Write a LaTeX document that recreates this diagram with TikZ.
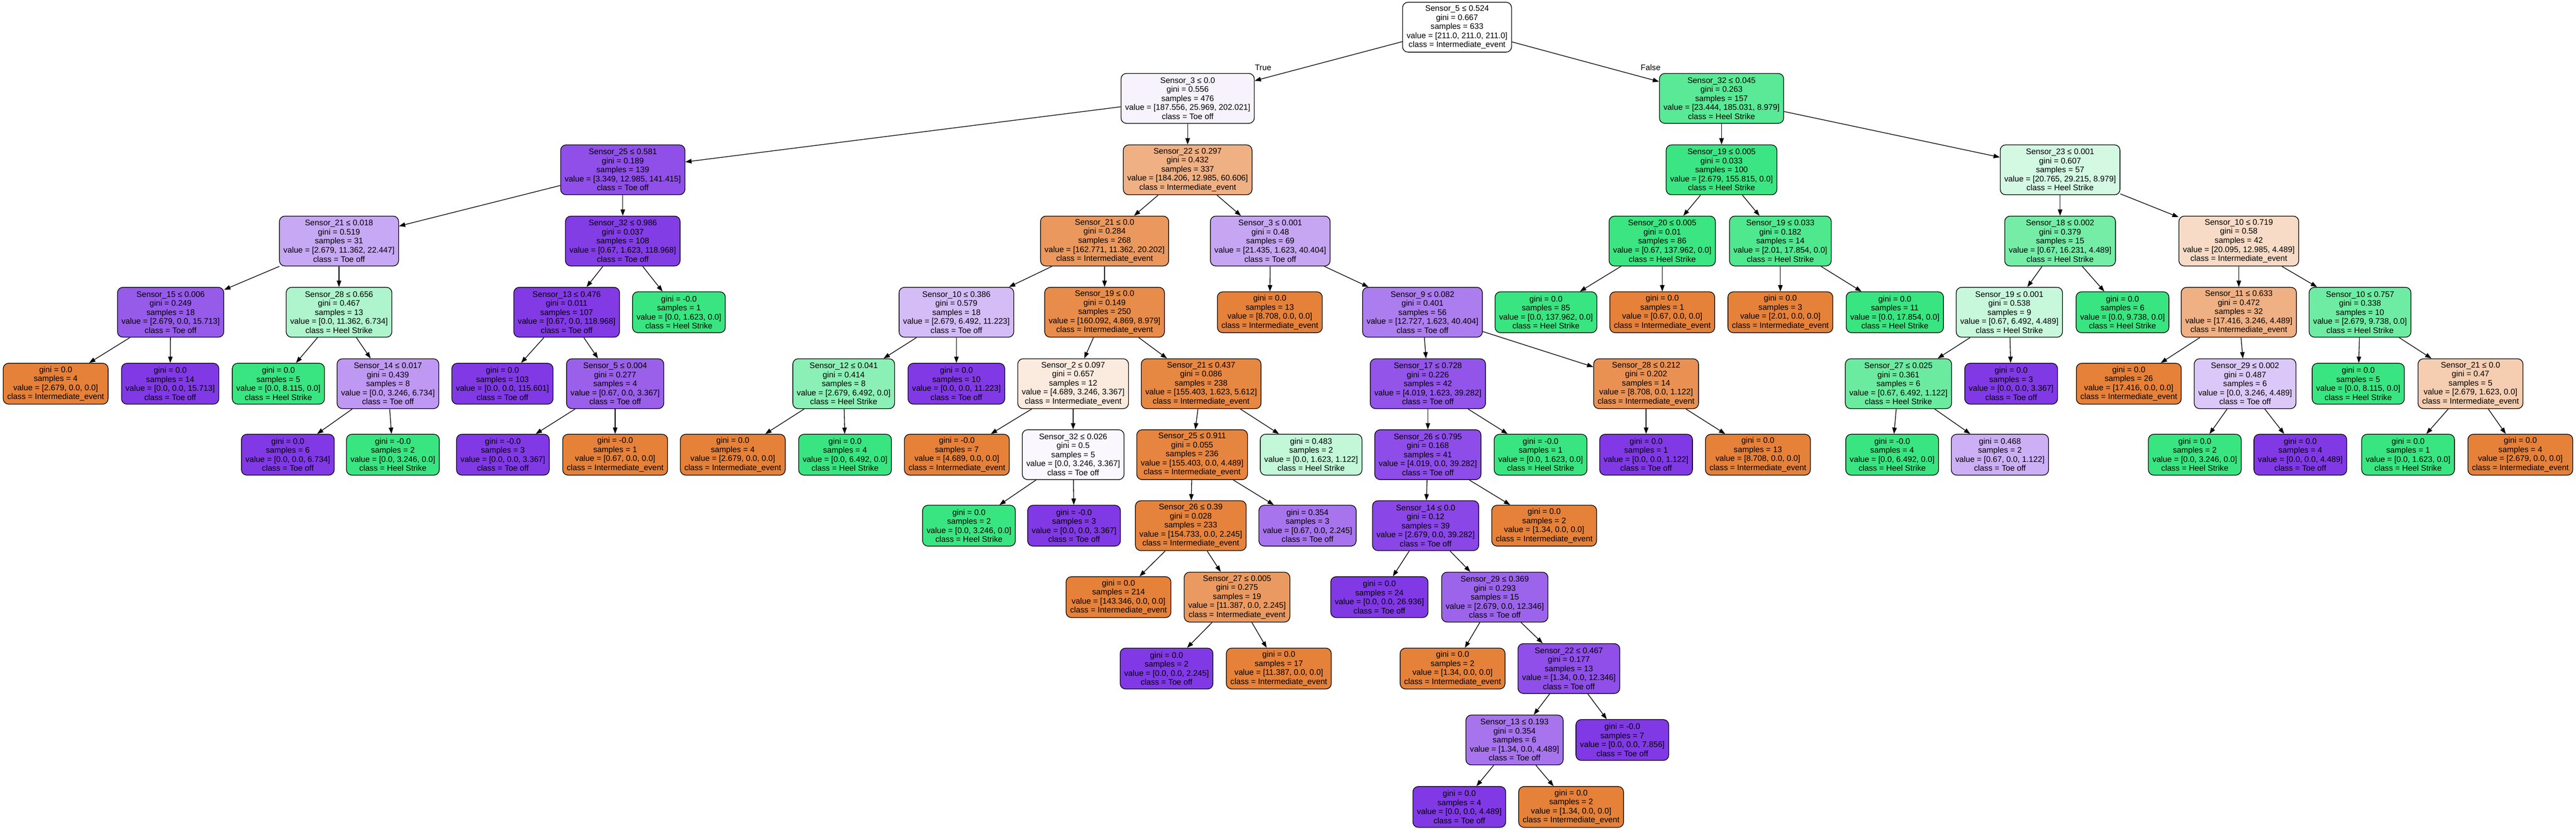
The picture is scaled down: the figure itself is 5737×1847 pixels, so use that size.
\documentclass[tikz,border=0pt]{standalone}
\usepackage{fontspec}
\setmainfont{Liberation Sans}
\usetikzlibrary{arrows.meta}
\definecolor{cI}{HTML}{E58139}
\definecolor{cH}{HTML}{39E581}
\definecolor{cT}{HTML}{8139E5}
\newcommand\treefont{\fontsize{18}{20.1}\selectfont}
\newcommand\clsI{Intermediate\_event}
\newcommand\clsH{Heel Strike}
\newcommand\clsT{Toe off}
\tikzset{
  treebox/.style={draw=black, line width=1.5pt, rounded corners=12pt, align=center,
    inner xsep=9pt, inner ysep=3pt, font=\treefont},
  splitbox/.style={treebox, minimum height=111pt},
  leafbox/.style={treebox, minimum height=91pt},
  edge/.style={line width=1.5pt, -{Triangle[length=14pt,width=10pt]}},
  elabel/.style={font=\treefont, inner sep=0pt}
}
\newcommand\splitnode[8]{\node[splitbox,fill=#2] (#1) at (#3) {#4\\gini = #5\\samples = #6\\value = [#7]\\class = #8};}
\newcommand\leafnode[7]{\node[leafbox,fill=#2] (#1) at (#3) {gini = #4\\samples = #5\\value = [#6]\\class = #7};}
\begin{document}
\begin{tikzpicture}[x=1pt,y=-1pt]
\fill[white] (0,0) rectangle (5737,1847);
\useasboundingbox (0,0) rectangle (5737,1847);
% level 0
\splitnode{n0}{white}{3245,60.5}{Sensor\_5 ≤ 0.524}{0.667}{633}{211.0, 211.0, 211.0}{\clsI}
% level 1
\splitnode{n1}{cT!6.3}{2645,219}{Sensor\_3 ≤ 0.0}{0.556}{476}{187.556, 25.969, 202.021}{\clsT}
\splitnode{n2}{cH!83.3}{3834,219}{Sensor\_32 ≤ 0.045}{0.263}{157}{23.444, 185.031, 8.979}{\clsH}
% level 2
\splitnode{n3}{cT!88.7}{1387,378}{Sensor\_25 ≤ 0.581}{0.189}{139}{3.349, 12.985, 141.415}{\clsT}
\splitnode{n4}{cI!62.7}{2645,378}{Sensor\_22 ≤ 0.297}{0.432}{337}{184.206, 12.985, 60.606}{\clsI}
\splitnode{n5}{cH!98.3}{3834,378}{Sensor\_19 ≤ 0.005}{0.033}{100}{2.679, 155.815, 0.0}{\clsH}
\splitnode{n6}{cH!22.1}{4588,378}{Sensor\_23 ≤ 0.001}{0.607}{57}{20.765, 29.215, 8.979}{\clsH}
% level 3
\splitnode{n7}{cT!44.1}{755,536.5}{Sensor\_21 ≤ 0.018}{0.519}{31}{2.679, 11.362, 22.447}{\clsT}
\splitnode{n8}{cT!98.1}{1387,536.5}{Sensor\_32 ≤ 0.986}{0.037}{108}{0.67, 1.623, 118.968}{\clsT}
\splitnode{n9}{cI!81.9}{2460,536.5}{Sensor\_21 ≤ 0.0}{0.284}{268}{162.771, 11.362, 20.202}{\clsI}
\splitnode{n10}{cT!45.1}{2829,536.5}{Sensor\_3 ≤ 0.001}{0.48}{69}{21.435, 1.623, 40.404}{\clsT}
\splitnode{n11}{cH!99.5}{3702,536.5}{Sensor\_20 ≤ 0.005}{0.01}{86}{0.67, 137.962, 0.0}{\clsH}
\splitnode{n12}{cH!88.7}{3965,536.5}{Sensor\_19 ≤ 0.033}{0.182}{14}{2.01, 17.854, 0.0}{\clsH}
\splitnode{n13}{cH!69.5}{4588,536.5}{Sensor\_18 ≤ 0.002}{0.379}{15}{0.67, 16.231, 4.489}{\clsH}
\splitnode{n14}{cI!28.9}{4986,536.5}{Sensor\_10 ≤ 0.719}{0.58}{42}{20.095, 12.985, 4.489}{\clsI}
% level 4
\splitnode{n15}{cT!83}{380,695}{Sensor\_15 ≤ 0.006}{0.249}{18}{2.679, 0.0, 15.713}{\clsT}
\splitnode{n16}{cH!40.7}{755,695}{Sensor\_28 ≤ 0.656}{0.467}{13}{0.0, 11.362, 6.734}{\clsH}
\splitnode{n17}{cT!99.4}{1262,695}{Sensor\_13 ≤ 0.476}{0.011}{107}{0.67, 0.0, 118.968}{\clsT}
\leafnode{n18}{cH}{1512,695}{-0.0}{1}{0.0, 1.623, 0.0}{\clsH}
\splitnode{n19}{cT!34}{2130,695}{Sensor\_10 ≤ 0.386}{0.579}{18}{2.679, 6.492, 11.223}{\clsT}
\splitnode{n20}{cI!91.6}{2460,695}{Sensor\_19 ≤ 0.0}{0.149}{250}{160.092, 4.869, 8.979}{\clsI}
\leafnode{n21}{cI}{2828,695}{0.0}{13}{8.708, 0.0, 0.0}{\clsI}
\splitnode{n22}{cT!65.9}{3168,695}{Sensor\_9 ≤ 0.082}{0.401}{56}{12.727, 1.623, 40.404}{\clsT}
\leafnode{n23}{cH}{3443,695}{0.0}{85}{0.0, 137.962, 0.0}{\clsH}
\leafnode{n24}{cI}{3702,695}{0.0}{1}{0.67, 0.0, 0.0}{\clsI}
\leafnode{n25}{cI}{3965,695}{0.0}{3}{2.01, 0.0, 0.0}{\clsI}
\leafnode{n26}{cH}{4220,695}{0.0}{11}{0.0, 17.854, 0.0}{\clsH}
\splitnode{n27}{cH!28}{4475,695}{Sensor\_19 ≤ 0.001}{0.538}{9}{0.67, 6.492, 4.489}{\clsH}
\leafnode{n28}{cH}{4727,695}{0.0}{6}{0.0, 9.738, 0.0}{\clsH}
\splitnode{n29}{cI!62.6}{4986,695}{Sensor\_11 ≤ 0.633}{0.472}{32}{17.416, 3.246, 4.489}{\clsI}
\splitnode{n30}{cH!72.5}{5256,695}{Sensor\_10 ≤ 0.757}{0.338}{10}{2.679, 9.738, 0.0}{\clsH}
% level 5
\leafnode{n31}{cI}{124,854}{0.0}{4}{2.679, 0.0, 0.0}{\clsI}
\leafnode{n32}{cT}{379,854}{0.0}{14}{0.0, 0.0, 15.713}{\clsT}
\leafnode{n33}{cH}{620,854}{0.0}{5}{0.0, 8.115, 0.0}{\clsH}
\splitnode{n34}{cT!51.8}{864,854}{Sensor\_14 ≤ 0.017}{0.439}{8}{0.0, 3.246, 6.734}{\clsT}
\leafnode{n35}{cT}{1119,854}{0.0}{103}{0.0, 0.0, 115.601}{\clsT}
\splitnode{n36}{cT!80.1}{1370,854}{Sensor\_5 ≤ 0.004}{0.277}{4}{0.67, 0.0, 3.367}{\clsT}
\splitnode{n37}{cH!58.7}{1879,854}{Sensor\_12 ≤ 0.041}{0.414}{8}{2.679, 6.492, 0.0}{\clsH}
\leafnode{n38}{cT}{2130,854}{0.0}{10}{0.0, 0.0, 11.223}{\clsT}
\splitnode{n39}{cI!16.7}{2390,854}{Sensor\_2 ≤ 0.097}{0.657}{12}{4.689, 3.246, 3.367}{\clsI}
\splitnode{n40}{cI!95.4}{2675,854}{Sensor\_21 ≤ 0.437}{0.086}{238}{155.403, 1.623, 5.612}{\clsI}
\splitnode{n41}{cT!86.2}{3180,854}{Sensor\_17 ≤ 0.728}{0.226}{42}{4.019, 1.623, 39.282}{\clsT}
\splitnode{n42}{cI!87.1}{3666,854}{Sensor\_28 ≤ 0.212}{0.202}{14}{8.708, 0.0, 1.122}{\clsI}
\splitnode{n43}{cH!75}{4228,854}{Sensor\_27 ≤ 0.025}{0.361}{6}{0.67, 6.492, 1.122}{\clsH}
\leafnode{n44}{cT}{4479,854}{0.0}{3}{0.0, 0.0, 3.367}{\clsT}
\leafnode{n45}{cI}{4741,854}{0.0}{26}{17.416, 0.0, 0.0}{\clsI}
\splitnode{n46}{cT!27.7}{5000,854}{Sensor\_29 ≤ 0.002}{0.487}{6}{0.0, 3.246, 4.489}{\clsT}
\leafnode{n47}{cH}{5252,854}{0.0}{5}{0.0, 8.115, 0.0}{\clsH}
\splitnode{n48}{cI!39.4}{5502,854}{Sensor\_21 ≤ 0.0}{0.47}{5}{2.679, 1.623, 0.0}{\clsI}
% level 6
\leafnode{n49}{cT}{641,1012}{0.0}{6}{0.0, 0.0, 6.734}{\clsT}
\leafnode{n50}{cH}{875,1012}{-0.0}{2}{0.0, 3.246, 0.0}{\clsH}
\leafnode{n51}{cT}{1120,1012}{-0.0}{3}{0.0, 0.0, 3.367}{\clsT}
\leafnode{n52}{cI}{1370,1012}{-0.0}{1}{0.67, 0.0, 0.0}{\clsI}
\leafnode{n53}{cI}{1632,1012}{0.0}{4}{2.679, 0.0, 0.0}{\clsI}
\leafnode{n54}{cH}{1882,1012}{0.0}{4}{0.0, 6.492, 0.0}{\clsH}
\leafnode{n55}{cI}{2131,1012}{-0.0}{7}{4.689, 0.0, 0.0}{\clsI}
\splitnode{n56}{cT!3.6}{2390,1012}{Sensor\_32 ≤ 0.026}{0.5}{5}{0.0, 3.246, 3.367}{\clsT}
\splitnode{n57}{cI!97.1}{2655,1012}{Sensor\_25 ≤ 0.911}{0.055}{236}{155.403, 0.0, 4.489}{\clsI}
\leafnode{n58}{cH!30.9}{2920,1012}{0.483}{2}{0.0, 1.623, 1.122}{\clsH}
\splitnode{n59}{cT!89.8}{3180,1012}{Sensor\_26 ≤ 0.795}{0.168}{41}{4.019, 0.0, 39.282}{\clsT}
\leafnode{n60}{cH}{3431,1012}{-0.0}{1}{0.0, 1.623, 0.0}{\clsH}
\leafnode{n61}{cT}{3666,1012}{0.0}{1}{0.0, 0.0, 1.122}{\clsT}
\leafnode{n62}{cI}{3915,1012}{0.0}{13}{8.708, 0.0, 0.0}{\clsI}
\leafnode{n63}{cH}{4214,1012}{-0.0}{4}{0.0, 6.492, 0.0}{\clsH}
\leafnode{n64}{cT!40.3}{4454,1012}{0.468}{2}{0.67, 0.0, 1.122}{\clsT}
\leafnode{n65}{cH}{4888,1012}{0.0}{2}{0.0, 3.246, 0.0}{\clsH}
\leafnode{n66}{cT}{5123,1012}{0.0}{4}{0.0, 0.0, 4.489}{\clsT}
\leafnode{n67}{cH}{5363,1012}{0.0}{1}{0.0, 1.623, 0.0}{\clsH}
\leafnode{n68}{cI}{5613,1012}{0.0}{4}{2.679, 0.0, 0.0}{\clsI}
% level 7
\leafnode{n69}{cH}{2158,1170}{0.0}{2}{0.0, 3.246, 0.0}{\clsH}
\leafnode{n70}{cT}{2392,1170}{-0.0}{3}{0.0, 0.0, 3.367}{\clsT}
\splitnode{n71}{cI!98.6}{2652,1170}{Sensor\_26 ≤ 0.39}{0.028}{233}{154.733, 0.0, 2.245}{\clsI}
\leafnode{n72}{cT!70.2}{2912,1170}{0.354}{3}{0.67, 0.0, 2.245}{\clsT}
\splitnode{n73}{cT!93.2}{3175,1170}{Sensor\_14 ≤ 0.0}{0.12}{39}{2.679, 0.0, 39.282}{\clsT}
\leafnode{n74}{cI}{3439,1170}{0.0}{2}{1.34, 0.0, 0.0}{\clsI}
% level 8
\leafnode{n75}{cI}{2491,1329}{0.0}{214}{143.346, 0.0, 0.0}{\clsI}
\splitnode{n76}{cI!80.3}{2755,1329}{Sensor\_27 ≤ 0.005}{0.275}{19}{11.387, 0.0, 2.245}{\clsI}
\leafnode{n77}{cT}{3072,1329}{0.0}{24}{0.0, 0.0, 26.936}{\clsT}
\splitnode{n78}{cT!78.3}{3329,1329}{Sensor\_29 ≤ 0.369}{0.293}{15}{2.679, 0.0, 12.346}{\clsT}
% level 9
\leafnode{n79}{cT}{2598,1488}{0.0}{2}{0.0, 0.0, 2.245}{\clsT}
\leafnode{n80}{cI}{2848,1488}{0.0}{17}{11.387, 0.0, 0.0}{\clsI}
\leafnode{n81}{cI}{3235,1488}{0.0}{2}{1.34, 0.0, 0.0}{\clsI}
\splitnode{n82}{cT!89.1}{3494,1488}{Sensor\_22 ≤ 0.467}{0.177}{13}{1.34, 0.0, 12.346}{\clsT}
% level 10
\splitnode{n83}{cT!70.2}{3373,1647}{Sensor\_13 ≤ 0.193}{0.354}{6}{1.34, 0.0, 4.489}{\clsT}
\leafnode{n84}{cT}{3613,1647}{-0.0}{7}{0.0, 0.0, 7.856}{\clsT}
% level 11
\leafnode{n85}{cT}{3250,1796}{0.0}{4}{0.0, 0.0, 4.489}{\clsT}
\leafnode{n86}{cI}{3499,1796}{0.0}{2}{1.34, 0.0, 0.0}{\clsI}
% edge labels
\node[elabel] (lt) at (2813,150) {True};
\node[elabel] (lf) at (3676,150) {False};
% edges
\foreach \a/\b in {n0/n1,n0/n2,n1/n3,n1/n4,n2/n5,n2/n6,n3/n7,n3/n8,n4/n9,n4/n10,
  n5/n11,n5/n12,n6/n13,n6/n14,n7/n15,n7/n16,n8/n17,n8/n18,n9/n19,n9/n20,
  n10/n21,n10/n22,n11/n23,n11/n24,n12/n25,n12/n26,n13/n27,n13/n28,n14/n29,n14/n30,
  n15/n31,n15/n32,n16/n33,n16/n34,n17/n35,n17/n36,n19/n37,n19/n38,n20/n39,n20/n40,
  n22/n41,n22/n42,n27/n43,n27/n44,n29/n45,n29/n46,n30/n47,n30/n48,
  n34/n49,n34/n50,n36/n51,n36/n52,n37/n53,n37/n54,n39/n55,n39/n56,n40/n57,n40/n58,
  n41/n59,n41/n60,n42/n61,n42/n62,n43/n63,n43/n64,n46/n65,n46/n66,n48/n67,n48/n68,
  n56/n69,n56/n70,n57/n71,n57/n72,n59/n73,n59/n74,n71/n75,n71/n76,n73/n77,n73/n78,
  n76/n79,n76/n80,n78/n81,n78/n82,n82/n83,n82/n84,n83/n85,n83/n86}
  \draw[edge] (\a) -- (\b);
\end{tikzpicture}
\end{document}
